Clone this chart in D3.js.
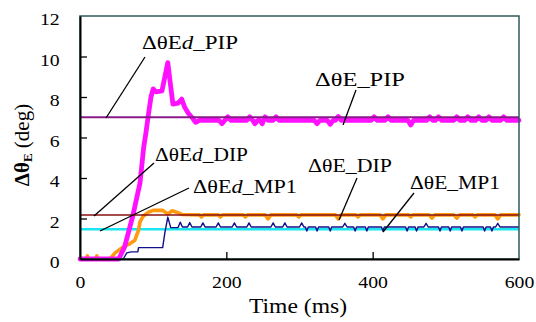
<!DOCTYPE html>
<html>
<head>
<meta charset="utf-8">
<script src="https://cdn.jsdelivr.net/npm/d3@7"></script>
<style>
  body { margin: 0; background: #fff; }
</style>
</head>
<body>
<svg id="chart" width="536" height="322"></svg>
<script>
// ---- data (time in ms, angle in deg) ----
const xTicks = [0, 200, 400, 600];
const yTicks = [0, 2, 4, 6, 8, 10, 12];

// target (desired) levels
const refNames  = ['PIP', 'DIP', 'MP1'];
const refLevels = [7.0, 2.17, 1.47];

const pipData = [[0,0],[53,0],[61,0.6],[72,2.1],[82,3.75],[87,5.5],[90,6.2],[93,7.0],[97,8.0],[100,8.4],[104,8.25],[112,8.3],[116,9.0],[120,9.7],[123,8.8],[127,7.65],[134,7.7],[139,7.9],[143,7.5],[148,7.2],[154,6.95],[158,6.75],[163,6.85],[190,6.85],[194,6.68],[198,6.85],[202,7.02],[206,6.85],[228,6.85],[232,7.02],[236,6.85],[239,6.68],[243,6.85],[246,6.85],[249,6.68],[253,7.02],[257,6.85],[264,6.85],[268,7.02],[272,6.85],[320,6.85],[324,6.68],[328,6.85],[338,6.85],[342,6.65],[346,6.85],[349,6.85],[353,7.04],[357,6.85],[398,6.85],[402,7.02],[406,6.85],[417,6.85],[421,7.02],[425,6.85],[448,6.85],[452,6.62],[456,6.85],[474,6.85],[478,7.02],[482,6.85],[486,6.85],[490,7.02],[494,6.85],[511,6.85],[515,7.02],[519,6.85],[526,6.85],[530,7.02],[534,6.85],[541,6.85],[545,7.02],[549,6.85],[555,6.85],[559,7.02],[563,6.85],[575,6.85],[579,7.02],[583,6.85],[600,6.85]];

const dipData = [[0,0],[8,0],[10,0.15],[12,0],[21,0],[23,0.15],[25,0],[41,0],[48,0.3],[59,0.6],[68,0.75],[75,0.93],[80,1.43],[82,1.83],[86,2.1],[93,2.3],[100,2.4],[113,2.4],[120,2.22],[126,2.38],[133,2.3],[139,2.2],[163,2.18],[166,2.08],[169,2.18],[189,2.18],[192,2.08],[195,2.18],[223,2.18],[226,2.08],[229,2.18],[253,2.18],[257,1.98],[261,2.18],[296,2.18],[299,2.08],[302,2.18],[349,2.18],[353,1.98],[357,2.18],[377,2.18],[380,2.08],[383,2.18],[410,2.18],[414,1.98],[418,2.18],[449,2.18],[452,2.08],[455,2.18],[477,2.18],[481,2.02],[485,2.18],[511,2.18],[515,2.02],[519,2.18],[537,2.18],[540,2.08],[543,2.18],[567,2.18],[571,1.98],[575,2.18],[600,2.18]];

const mp1Data = [[0,0],[59,0],[64,0.3],[70,0.35],[79,0.35],[80,0.56],[113,0.56],[116,1.3],[120,2.07],[124,1.55],[134,1.55],[137,1.82],[140,1.58],[147,1.58],[150,1.8],[153,1.58],[165,1.58],[168,1.78],[171,1.58],[186,1.58],[189,1.78],[192,1.58],[208,1.58],[211,1.78],[214,1.58],[228,1.58],[231,1.78],[234,1.58],[261,1.58],[264,1.78],[267,1.58],[277,1.58],[280,1.78],[283,1.58],[300,1.58],[303,1.78],[306,1.58],[308,1.58],[310,1.38],[312,1.58],[322,1.58],[324,1.38],[326,1.58],[340,1.58],[342,1.38],[344,1.58],[359,1.58],[362,1.76],[365,1.58],[374,1.58],[376,1.38],[378,1.58],[390,1.58],[392,1.38],[394,1.58],[412,1.58],[414,1.38],[416,1.58],[445,1.58],[447,1.38],[449,1.58],[458,1.58],[460,1.38],[462,1.58],[470,1.58],[473,1.76],[476,1.58],[490,1.58],[492,1.38],[494,1.58],[504,1.58],[506,1.38],[508,1.58],[520,1.58],[522,1.38],[524,1.58],[551,1.58],[553,1.38],[555,1.58],[561,1.58],[563,1.38],[565,1.58],[568,1.58],[571,1.76],[574,1.58],[600,1.58]];

// ---- layout ----
const FONT = 'Liberation Serif';
const svg = d3.select('#chart').attr('font-family', FONT);
const x = d3.scaleLinear().domain([0, 600]).range([80, 519]);
const y = d3.scaleLinear().domain([0, 12]).range([259, 16]);
const SX = 1.13; // the original glyphs are a bit wide

const line = d3.line().x(d => x(d[0])).y(d => y(d[1]));

const plot = svg.append('g');

// cyan target first, then measured curves
plot.append('line')
  .attr('x1', x(0)).attr('x2', x(600))
  .attr('y1', y(refLevels[2])).attr('y2', y(refLevels[2]))
  .attr('stroke', '#19e6f0').attr('stroke-width', 2.5);

plot.append('path').datum(mp1Data)
  .attr('d', line).attr('fill', 'none')
  .attr('stroke', '#10108a').attr('stroke-width', 1.4)
  .attr('stroke-linejoin', 'round');

plot.append('path').datum(dipData)
  .attr('d', line).attr('fill', 'none')
  .attr('stroke', '#ff9a10').attr('stroke-width', 3.6)
  .attr('stroke-linejoin', 'round').attr('stroke-linecap', 'round');

plot.append('path').datum(pipData)
  .attr('d', line).attr('fill', 'none')
  .attr('stroke', '#ff10ff').attr('stroke-width', 4.8)
  .attr('stroke-linejoin', 'round').attr('stroke-linecap', 'round');

plot.append('line')
  .attr('x1', x(0)).attr('x2', x(600))
  .attr('y1', y(refLevels[0])).attr('y2', y(refLevels[0]))
  .attr('stroke', '#8a1a8a').attr('stroke-width', 2);

plot.append('line')
  .attr('x1', x(0)).attr('x2', x(600))
  .attr('y1', y(refLevels[1])).attr('y2', y(refLevels[1]))
  .attr('stroke', '#8a1010').attr('stroke-width', 1.6);

// ---- frame + axes ----
svg.append('rect')
  .attr('x', 80).attr('y', 16).attr('width', 439).attr('height', 243)
  .attr('fill', 'none').attr('stroke', '#2c5a5a').attr('stroke-width', 1.5);

const yAxis = svg.append('g').attr('transform', 'translate(80,0)')
  .call(d3.axisLeft(y).tickValues(yTicks).tickSizeInner(-7).tickSizeOuter(0).tickPadding(18));
const xAxis = svg.append('g').attr('transform', 'translate(0,259)')
  .call(d3.axisBottom(x).tickValues(xTicks).tickSizeInner(-7).tickSizeOuter(0));

[yAxis, xAxis].forEach(a => {
  a.attr('font-family', FONT);
  a.select('.domain').attr('stroke', '#000').attr('stroke-width', 2);
  a.selectAll('.tick line').attr('stroke', '#000').attr('stroke-width', 1.3);
  a.selectAll('text').attr('font-family', FONT).attr('font-size', 17.5).attr('fill', '#000');
});
// hide tick marks sitting on the frame
yAxis.selectAll('.tick line').filter(d => d === 0 || d === 12).remove();
xAxis.selectAll('.tick line').filter(d => d === 0 || d === 600).remove();
yAxis.selectAll('text').attr('dy', '0.32em').attr('y', 3).attr('transform', `scale(${SX},1)`);
xAxis.selectAll('text').attr('y', 29).attr('dy', 0).attr('transform', `scale(${SX},1)`);

// axis titles
svg.append('text')
  .attr('x', 298).attr('y', 313).attr('font-family', FONT)
  .attr('text-anchor', 'middle').attr('font-size', 20.5)
  .attr('textLength', 98).attr('lengthAdjust', 'spacingAndGlyphs')
  .text('Time (ms)');

const yt = svg.append('text')
  .attr('transform', 'translate(29,145) rotate(-90)').attr('font-family', FONT)
  .attr('text-anchor', 'middle').attr('font-size', 21);
yt.append('tspan').attr('font-weight', 'bold').text('Δθ');
yt.append('tspan').attr('font-weight', 'bold').attr('font-size', 13).attr('dy', 3).text('E');
yt.append('tspan').attr('dy', -3).text(' (deg)');

// ---- annotations: label text, label box, leader line ----
const notes = [
  { pre: 'ΔθE', it: 'd', post: '_PIP', tx: 142, ty: 49,  w: 96, lx1: 145, ly1: 57,  lx2: 106, ly2: 118 },
  { pre: 'ΔθE', it: 'd', post: '_DIP', tx: 155, ty: 161, w: 93, lx1: 154, ly1: 163, lx2: 94,  ly2: 216 },
  { pre: 'ΔθE', it: 'd', post: '_MP1', tx: 193, ty: 193, w: 104, lx1: 189, ly1: 188, lx2: 100, ly2: 231 },
  { pre: 'ΔθE', it: '',  post: '_PIP', tx: 315, ty: 86,  w: 90, lx1: 356, ly1: 90,  lx2: 343, ly2: 125 },
  { pre: 'ΔθE', it: '',  post: '_DIP', tx: 308, ty: 172, w: 84, lx1: 357, ly1: 178, lx2: 339, ly2: 220 },
  { pre: 'ΔθE', it: '',  post: '_MP1', tx: 410, ty: 189, w: 90, lx1: 414, ly1: 193, lx2: 383, ly2: 232 }
];

notes.forEach(n => {
  svg.append('line')
    .attr('x1', n.lx1).attr('y1', n.ly1).attr('x2', n.lx2).attr('y2', n.ly2)
    .attr('stroke', '#000').attr('stroke-width', 1.3);
  const t = svg.append('text').attr('font-family', FONT)
    .attr('x', n.tx).attr('y', n.ty).attr('font-size', 18.5)
    .attr('textLength', n.w).attr('lengthAdjust', 'spacingAndGlyphs');
  t.append('tspan').text(n.pre);
  if (n.it) t.append('tspan').attr('font-style', 'italic').text(n.it);
  t.append('tspan').text(n.post);
});
</script>
</body>
</html>
